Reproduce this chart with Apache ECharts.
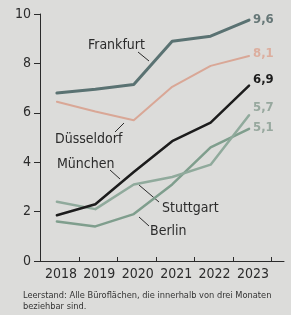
<!DOCTYPE html>
<html>
<head>
<meta charset="utf-8">
<script src="https://cdn.jsdelivr.net/npm/echarts@6/dist/echarts.min.js"></script>
<style>
  html, body { margin: 0; padding: 0; background: #dcdcda; }
  #chart { width: 291px; height: 315px; }
</style>
</head>
<body>
<div id="chart"></div>
<script>
// Leerstand Büroflächen in Prozent
const years = [2018, 2019, 2020, 2021, 2022, 2023];
const frankfurt = [6.8, 6.95, 7.15, 8.9, 9.1, 9.75];
const duesseldorf = [6.45, 6.05, 5.7, 7.05, 7.9, 8.3];
const muenchen = [1.85, 2.3, 3.6, 4.85, 5.6, 7.1];
const stuttgart = [2.4, 2.1, 3.1, 3.4, 3.9, 5.9];
const berlin = [1.6, 1.4, 1.9, 3.1, 4.6, 5.35];
// printed end values
const endLabels = ['9,6', '8,1', '6,9', '5,7', '5,1'];
const yTicks = [0, 2, 4, 6, 8, 10];

const font = "'Liberation Sans Narrow', 'DejaVu Sans Condensed', sans-serif";
const ink = '#2b2b2b';

var chartDom = document.getElementById('chart');
var myChart = echarts.init(chartDom);
var option;

function pairs(values) {
  return values.map((v, i) => [years[i], v]);
}

function lineSeries(name, values, color, width, label, labelColor, dy) {
  return {
    name: name,
    type: 'line',
    data: pairs(values),
    showSymbol: false,
    symbol: 'none',
    lineStyle: { color: color, width: width, cap: 'round', join: 'round' },
    endLabel: {
      show: true,
      formatter: label,
      color: labelColor,
      fontFamily: font,
      fontSize: 13,
      fontWeight: 'bold',
      distance: 4,
      offset: [0, dy]
    },
    silent: true
  };
}

function nameText(text, x, y) {
  return {
    type: 'text', left: x, top: y - 8,
    style: { text: text, fill: ink, font: '14px ' + font }
  };
}

function leader(x1, y1, x2, y2) {
  return {
    type: 'line',
    shape: { x1: x1, y1: y1, x2: x2, y2: y2 },
    style: { stroke: ink, lineWidth: 1 }
  };
}

option = {
  backgroundColor: '#dcdcda',
  animation: false,
  grid: { left: 40, right: 7, top: 14, bottom: 54 },
  xAxis: {
    type: 'value',
    min: 2017.56,
    max: 2023.91,
    splitLine: { show: false },
    axisLine: { lineStyle: { color: ink, width: 1 } },
    axisTick: {
      show: true,
      inside: true,
      length: 4,
      customValues: years.map(y => y + 0.58),
      lineStyle: { color: ink }
    },
    axisLabel: {
      customValues: years,
      formatter: v => String(Math.round(v)),
      color: ink,
      fontFamily: font,
      fontSize: 14,
      margin: 6,
      padding: [0, 0, 0, 8]
    }
  },
  yAxis: {
    type: 'value',
    min: 0,
    max: 10,
    interval: 2,
    splitLine: { show: false },
    axisLine: { show: true, lineStyle: { color: ink, width: 1 } },
    axisTick: { show: true, length: 6, lineStyle: { color: ink } },
    axisLabel: {
      customValues: yTicks,
      color: ink,
      fontFamily: font,
      fontSize: 14,
      margin: 9
    }
  },
  series: [
    lineSeries('Düsseldorf', duesseldorf, '#d9a796', 2, endLabels[1], '#dcae9e', -2),
    lineSeries('Berlin', berlin, '#7f9e8d', 2.5, endLabels[4], '#97a89e', -1),
    lineSeries('Stuttgart', stuttgart, '#90aa9c', 2.5, endLabels[3], '#97a89e', -8),
    lineSeries('München', muenchen, '#1c1c1c', 2.5, endLabels[2], '#1c1c1c', -6),
    lineSeries('Frankfurt', frankfurt, '#5a7272', 3, endLabels[0], '#667777', -1)
  ],
  graphic: [
    nameText('Frankfurt', 88, 46),
    nameText('Düsseldorf', 55, 140),
    nameText('München', 57, 165),
    nameText('Stuttgart', 162, 209),
    nameText('Berlin', 150, 232),
    leader(138, 52, 149, 61),
    leader(115, 132, 124, 123),
    leader(110, 170, 120, 179),
    leader(139, 185, 159, 202),
    leader(139, 217, 149, 226),
    {
      type: 'text', left: 23, top: 290,
      style: {
        text: 'Leerstand: Alle Büroflächen, die innerhalb von drei Monaten\nbeziehbar sind.',
        fill: '#333333',
        font: '9.2px ' + font,
        lineHeight: 11
      }
    }
  ]
};

option && myChart.setOption(option);
</script>
</body>
</html>
